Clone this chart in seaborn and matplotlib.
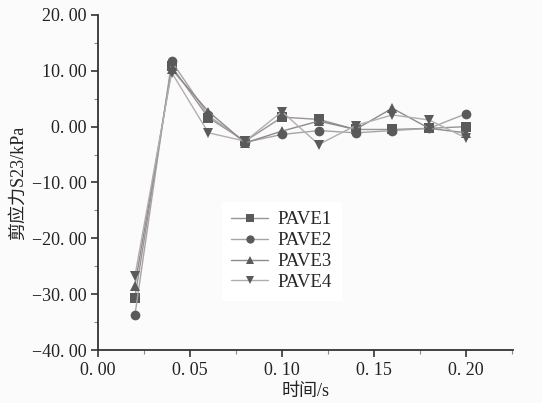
import matplotlib
matplotlib.use("Agg")
import matplotlib.pyplot as plt
import matplotlib.ticker as ticker
import seaborn as sns
import pandas as pd

# time points (s)
time_s = [0.02, 0.04, 0.06, 0.08, 0.10, 0.12, 0.14, 0.16, 0.18, 0.20]

# shear stress S23 (kPa)
pave1 = [-30.7, 10.8, 1.6, -2.6, 1.7, 1.3, -0.5, -0.5, -0.3, 0.0]
pave2 = [-33.8, 11.7, 2.0, -2.8, -1.4, -0.7, -1.1, -0.7, -0.3, 2.3]
pave3 = [-28.5, 10.3, 2.7, -2.9, -0.8, 1.0, -0.5, 3.3, -0.3, -1.1]
pave4 = [-26.8, 9.7, -1.1, -2.6, 2.7, -3.2, 0.2, 2.1, 1.2, -2.0]

series_names = ["PAVE1", "PAVE2", "PAVE3", "PAVE4"]
series_values = [pave1, pave2, pave3, pave4]

rows = []
for name, vals in zip(series_names, series_values):
    for t, v in zip(time_s, vals):
        rows.append({"time": t, "value": v, "series": name})
df = pd.DataFrame(rows)

sns.set_theme(style="ticks")
plt.rcParams['font.family'] = ['Liberation Serif', 'Noto Sans CJK SC']
plt.rcParams['axes.unicode_minus'] = True

fig = plt.figure(figsize=(5.42, 4.03), dpi=100)
fig.patch.set_facecolor("#fbfbfb")
ax = fig.add_axes([0.181, 0.1315, 0.765, 0.8313])
ax.set_facecolor("#fbfbfb")

markers = {"PAVE1": "s", "PAVE2": "o", "PAVE3": "^", "PAVE4": "v"}
sns.lineplot(data=df, x="time", y="value", hue="series", style="series",
             markers=markers, dashes=False, ax=ax,
             palette=["#9a9494", "#a8a4a4", "#8e8a8a", "#b3aeae"],
             linewidth=1.0, markersize=7, markeredgewidth=0)
for line in ax.lines:
    line.set_markerfacecolor("#5a5a5a")
    line.set_markeredgecolor("#5a5a5a")


def fmt(v, p):
    s = ("%.2f" % v).replace(".", ". ")
    return s.replace("-", "\u2212")


ax.set_xlim(0, 0.2255)
ax.set_ylim(-40, 20)
ax.xaxis.set_major_locator(ticker.MultipleLocator(0.05))
ax.xaxis.set_minor_locator(ticker.MultipleLocator(0.025))
ax.yaxis.set_major_locator(ticker.MultipleLocator(10))
ax.yaxis.set_minor_locator(ticker.MultipleLocator(5))
ax.xaxis.set_major_formatter(ticker.FuncFormatter(fmt))
ax.yaxis.set_major_formatter(ticker.FuncFormatter(fmt))
ax.tick_params(which="major", direction="out", length=5, width=1.2, labelsize=13, colors="#333333")
ax.tick_params(which="minor", direction="out", length=3, width=0.8, colors="#888888")
for lab in ax.get_xticklabels() + ax.get_yticklabels():
    lab.set_color("#222222")

sns.despine(ax=ax)
ax.spines["left"].set_linewidth(1.3)
ax.spines["bottom"].set_linewidth(1.3)
ax.spines["left"].set_color("#333333")
ax.spines["bottom"].set_color("#333333")

ax.set_xlabel("时间/s", fontsize=13, labelpad=3, color="#222222")
ax.set_ylabel("剪应力S23/kPa", fontsize=13, labelpad=3, color="#222222")

leg = ax.legend(loc="upper left", bbox_to_anchor=(0.275, 0.47), frameon=True,
                fontsize=13.5, handlelength=2.0, labelspacing=0.2, borderpad=0.5,
                handletextpad=0.5, markerscale=0.85)
leg.get_frame().set_facecolor("white")
leg.get_frame().set_edgecolor("white")
leg.get_frame().set_alpha(1)
leg.get_frame().set_boxstyle("square", pad=0)
for h in leg.legend_handles:
    h.set_markerfacecolor("#5a5a5a")
    h.set_markeredgecolor("#5a5a5a")

fig.savefig("out.png", dpi=100, facecolor=fig.get_facecolor())
